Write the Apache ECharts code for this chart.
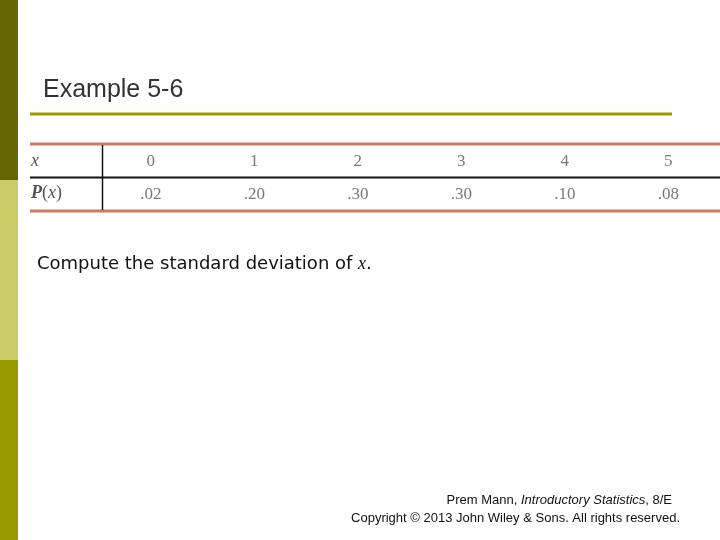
<!DOCTYPE html>
<html><head><meta charset="utf-8">
<script src="https://cdn.jsdelivr.net/npm/echarts@6/dist/echarts.min.js"></script>
<style>html,body{margin:0;padding:0;background:#fff}#c{width:720px;height:540px}</style>
</head><body><div id="c"></div>
<script>
const xValues = ['0','1','2','3','4','5'];
const probLabels = ['.02','.20','.30','.30','.10','.08'];
const rows = ['P(x)','x'];
const chart = echarts.init(document.getElementById('c'));
const serif = '"Liberation Serif", "DejaVu Serif", serif';
const sans = '"Liberation Sans", Arial, sans-serif';
function labelSeries(vals,row){
  return {type:'scatter',symbolSize:0,silent:true,
    data:vals.map((v,i)=>({value:[xValues[i],row],name:v})),
    label:{show:true,position:'inside',formatter:p=>p.name,fontFamily:serif,fontSize:17,color:'#555'}};
}
chart.setOption({
  animation:false,
  grid:{left:99,width:646,top:145,height:66},
  xAxis:{type:'category',data:xValues,show:false},
  yAxis:{type:'category',data:rows,show:false},
  series:[labelSeries(xValues,'x'),labelSeries(probLabels,'P(x)')],
  graphic:[
    {type:'rect',shape:{x:0,y:0,width:18,height:180},style:{fill:'#666600'}},
    {type:'rect',shape:{x:0,y:180,width:18,height:180},style:{fill:'#cccc66'}},
    {type:'rect',shape:{x:0,y:360,width:18,height:180},style:{fill:'#999900'}},
    {type:'text',x:43,y:78,style:{text:'Example 5-6',fontFamily:sans,fontSize:25,fill:'#333'}},
    {type:'line',shape:{x1:30,y1:114,x2:672,y2:114},style:{stroke:'#999900',lineWidth:3}},
    {type:'line',shape:{x1:30,y1:144,x2:720,y2:144},style:{stroke:'#c87b65',lineWidth:3}},
    {type:'line',shape:{x1:30,y1:177.5,x2:720,y2:177.5},style:{stroke:'#111',lineWidth:2}},
    {type:'line',shape:{x1:30,y1:211,x2:720,y2:211},style:{stroke:'#c87b65',lineWidth:3}},
    {type:'line',shape:{x1:102.5,y1:145,x2:102.5,y2:210},style:{stroke:'#111',lineWidth:1.5}},
    {type:'text',x:31,y:152,style:{text:'x',fontFamily:serif,fontStyle:'italic',fontSize:18,fill:'#555'}},
    {type:'text',x:31,y:184,style:{text:'{b|P}{n|(}{i|x}{n|)}',rich:{
      b:{fontFamily:serif,fontStyle:'italic',fontWeight:'bold',fontSize:18,fill:'#555'},
      n:{fontFamily:serif,fontSize:18,fill:'#555'},
      i:{fontFamily:serif,fontStyle:'italic',fontSize:18,fill:'#555'}}}},
    {type:'text',x:37,y:255,style:{text:'{a|Compute the standard deviation of }{i|x}{a|.}',rich:{
      a:{fontFamily:'"DejaVu Sans", sans-serif',fontSize:18,fill:'#111'},
      i:{fontFamily:serif,fontStyle:'italic',fontSize:18,fill:'#111'}}}},
    {type:'text',x:672,y:494,style:{align:'right',text:'{a|Prem Mann, }{i|Introductory Statistics}{a|, 8/E}',rich:{
      a:{fontFamily:sans,fontSize:13,fill:'#111'},i:{fontFamily:sans,fontStyle:'italic',fontSize:13,fill:'#111'}}}},
    {type:'text',x:680,y:512,style:{align:'right',text:'Copyright © 2013 John Wiley & Sons. All rights reserved.',fontFamily:sans,fontSize:13,fill:'#111'}}
  ]
});
</script></body></html>
